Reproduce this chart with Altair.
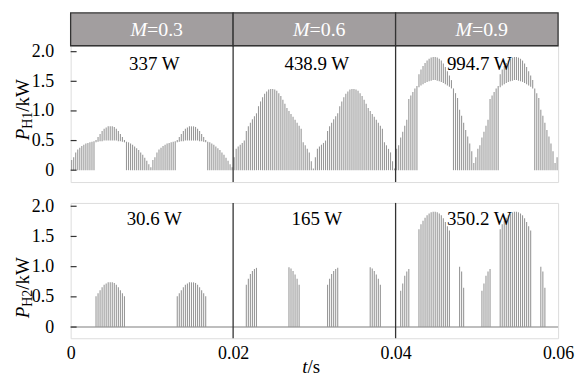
import altair as alt
import pandas as pd

# ---------------- data ----------------
M_VALUES = ["0.3", "0.6", "0.9"]
PANEL_START = [0.0, 0.02, 0.04]
PANEL_END = [0.02, 0.04, 0.06]
PERIOD = 0.01          # envelope period (s)
STEP = 0.00025         # switching period (s)
H1_LABELS = ["337 W", "438.9 W", "994.7 W"]
H2_LABELS = ["30.6 W", "165 W", "350.2 W"]
Y_TICKS = [0, 0.5, 1.0, 1.5, 2.0]
X_TICKS = [0, 0.02, 0.04, 0.06]

# P_H1 (kW): upper / lower level of each switching pulse within one envelope period
H1_HIGH_03 = [0.17, 0.22, 0.30, 0.35, 0.38, 0.41, 0.43, 0.45, 0.46, 0.47, 0.48, 0.49,
              0.51, 0.56, 0.61, 0.66, 0.70, 0.72, 0.74, 0.74, 0.74, 0.73, 0.70, 0.66, 0.61, 0.56, 0.51,
              0.48, 0.47, 0.45, 0.43, 0.40, 0.37, 0.34, 0.30, 0.26, 0.21, 0.16, 0.10, 0.05]
H1_LOW_03 = [0, 0, 0, 0, 0, 0, 0, 0, 0, 0, 0, 0,
             0.47, 0.48, 0.49, 0.49, 0.50, 0.50, 0.50, 0.50, 0.50, 0.50, 0.50, 0.49, 0.49, 0.48, 0.47,
             0, 0, 0, 0, 0, 0, 0, 0, 0, 0, 0, 0, 0]
H1_HIGH_06 = [0.22, 0.36, 0.40, 0.43, 0.46, 0.50, 0.66, 0.74, 0.80, 0.86, 0.91, 0.96,
              1.08, 1.16, 1.23, 1.29, 1.33, 1.36, 1.37, 1.37, 1.36, 1.34, 1.30, 1.25, 1.19, 1.12, 1.05,
              1.00, 0.95, 0.90, 0.85, 0.80, 0.75, 0.70, 0.47, 0.42, 0.36, 0.30, 0.15, 0.03]
H1_LOW_06 = [0] * 40
H1_HIGH_09 = [0.36, 0.42, 0.55, 0.65, 0.75, 0.85, 1.20, 1.26, 1.32, 1.38, 1.42,
              1.62, 1.70, 1.76, 1.81, 1.85, 1.88, 1.90, 1.91, 1.91, 1.90, 1.88, 1.85, 1.80, 1.74, 1.67, 1.60, 1.52,
              1.38, 1.30, 1.22, 1.02, 0.92, 0.80, 0.68, 0.57, 0.45, 0.32, 0.12, 0.22]
H1_LOW_09 = [0, 0, 0, 0, 0, 0, 0, 0, 0, 0, 0,
             1.40, 1.43, 1.45, 1.47, 1.49, 1.50, 1.51, 1.52, 1.52, 1.51, 1.50, 1.49, 1.47, 1.45, 1.43, 1.41, 1.38,
             0, 0, 0, 0, 0, 0, 0, 0, 0, 0, 0, 0]

# P_H2 (kW): pulse height within one envelope period
H2_HIGH_03 = [0] * 12 + [0.51, 0.56, 0.61, 0.66, 0.70, 0.72, 0.74, 0.74, 0.74, 0.73, 0.70, 0.66,
                         0.61, 0.56, 0.51] + [0] * 13
H2_HIGH_06 = [0] * 6 + [0.70, 0.80, 0.88, 0.93, 0.96, 0.98] + [0] * 15 + \
             [0.99, 0.97, 0.93, 0.87, 0.80, 0.70] + [0] * 7
H2_HIGH_09 = [0, 0] + [0.60, 0.72, 0.85, 0.92, 0.96] + [0] * 4 + \
             [1.62, 1.70, 1.76, 1.81, 1.85, 1.88, 1.90, 1.91, 1.91, 1.90, 1.88, 1.85, 1.80, 1.74, 1.67, 1.60] + \
             [0] * 4 + [1.00, 0.92, 0.65] + [0] * 6


def pulses(highs_list, lows_list):
    rows = []
    for start, highs, lows in zip(PANEL_START, highs_list, lows_list):
        for p in range(2):
            for k, (hi, lo) in enumerate(zip(highs, lows)):
                if hi - lo <= 0:
                    continue
                rows.append({"t": start + p * PERIOD + STEP * (k + 0.5), "v": lo, "v2": hi})
    return pd.DataFrame(rows)


df1 = pulses([H1_HIGH_03, H1_HIGH_06, H1_HIGH_09], [H1_LOW_03, H1_LOW_06, H1_LOW_09])
df2 = pulses([H2_HIGH_03, H2_HIGH_06, H2_HIGH_09], [[0] * 40] * 3)

# ---------------- style ----------------
FONT = "Liberation Serif"
GRAY = "#989898"
FRAME = "#333333"
W = 490


def make_row(df, labels, ydomain, height, show_x, sub, title_y0, header):
    if show_x:
        x_axis = alt.Axis(values=X_TICKS, labelExpr="datum.value == 0 ? '0' : format(datum.value, '.2f')",
                          ticks=False, domain=False, grid=False, labelFont=FONT, labelFontSize=18,
                          labelColor="black", labelPadding=6, labelFlush=False, title=None)
    else:
        x_axis = None
    X = alt.X("t:Q", scale=alt.Scale(domain=[0, 0.06], nice=False, zero=False), axis=x_axis)
    y_axis = alt.Axis(values=Y_TICKS, labelExpr="datum.value == 0 ? '0' : format(datum.value, '.1f')",
                      ticks=False, domain=False, grid=False, labelFont=FONT, labelFontSize=18,
                      labelColor="black", labelPadding=17, title=None)
    Y = alt.Y("v:Q", scale=alt.Scale(domain=ydomain, nice=False, zero=False), axis=y_axis)

    layers = []
    if not header:
        layers.append(alt.Chart(pd.DataFrame({"t": [0.0], "t2": [0.06], "v": [0.0]}))
                      .mark_rule(color="#a8a8a8", strokeWidth=1.6)
                      .encode(x=X, x2="t2:Q", y=Y))
    layers.append(alt.Chart(df).mark_rule(color=GRAY, strokeWidth=1.1).encode(x=X, y=Y, y2="v2:Q"))
    layers.append(alt.Chart(pd.DataFrame({"t": [0.02, 0.04]}))
                  .mark_rule(color=FRAME, strokeWidth=1.3)
                  .encode(x=X, y=alt.value(0), y2=alt.value(height)))
    layers.append(alt.Chart(pd.DataFrame({"v": Y_TICKS}))
                  .mark_rule(color=FRAME, strokeWidth=1.2)
                  .encode(x=alt.value(0), x2=alt.value(6), y=Y))
    ann = pd.DataFrame({"t": [s + 0.0103 for s in PANEL_START], "v": [1.69] * 3, "label": labels})
    layers.append(alt.Chart(ann).mark_text(font=FONT, fontSize=19, baseline="alphabetic",
                                           align="center", color="black")
                  .encode(x=X, y=Y, text="label:N"))
    if header:
        hd = pd.DataFrame({"t": PANEL_START, "t2": PANEL_END})
        layers.append(alt.Chart(hd).mark_rect(fill="#a29e9f", stroke=FRAME, strokeWidth=1.3)
                      .encode(x=X, x2="t2:Q", y=alt.value(-33), y2=alt.value(0)))
        ht = pd.DataFrame({"t": [s + 0.0094 for s in PANEL_START], "m": ["M"] * 3,
                           "rest": ["=" + m for m in M_VALUES]})
        layers.append(alt.Chart(ht).mark_text(font=FONT, fontSize=20, fontStyle="italic", color="white",
                                              align="right", baseline="middle")
                      .encode(x=X, y=alt.value(-16), text="m:N"))
        layers.append(alt.Chart(ht).mark_text(font=FONT, fontSize=20, color="white",
                                              align="left", baseline="middle")
                      .encode(x=X, y=alt.value(-16), text="rest:N"))
    # y title  P_Hx/kW
    layers.append(alt.Chart(pd.DataFrame({"s": ["P"]})).mark_text(font=FONT, fontSize=19, fontStyle="italic",
                                          angle=270, align="left", baseline="alphabetic", color="black")
                  .encode(x=alt.value(-42), y=alt.value(title_y0), text="s:N"))
    layers.append(alt.Chart(pd.DataFrame({"s": [sub]})).mark_text(font=FONT, fontSize=14, angle=270,
                                          align="left", baseline="alphabetic", color="black")
                  .encode(x=alt.value(-38.5), y=alt.value(title_y0 - 11.6), text="s:N"))
    layers.append(alt.Chart(pd.DataFrame({"s": ["/kW"]})).mark_text(font=FONT, fontSize=19, angle=270,
                                          align="left", baseline="alphabetic", color="black")
                  .encode(x=alt.value(-42), y=alt.value(title_y0 - 28.7), text="s:N"))
    if show_x:
        layers.append(alt.Chart(pd.DataFrame({"s": ["t"]})).mark_text(font=FONT, fontSize=19,
                                              fontStyle="italic", align="right", baseline="alphabetic",
                                              color="black")
                      .encode(x=alt.value(238), y=alt.value(height + 35), text="s:N"))
        layers.append(alt.Chart(pd.DataFrame({"s": ["/s"]})).mark_text(font=FONT, fontSize=19,
                                              align="left", baseline="alphabetic", color="black")
                      .encode(x=alt.value(238), y=alt.value(height + 35), text="s:N"))
    return alt.layer(*layers).properties(width=W, height=height)


top = make_row(df1, H1_LABELS, [-0.2, 2.1], 137, False, "H1", 95, True)
bottom = make_row(df2, H2_LABELS, [-0.185, 2.055], 136, True, "H2", 116, False)

chart = alt.vconcat(top, bottom, spacing=12).properties(
    padding={"left": 13, "top": 10, "right": 0, "bottom": 0}
).configure_view(stroke=FRAME, strokeWidth=1.3).configure(background="white")

chart.save("out.html", embed_options={"renderer": "svg", "actions": False})
